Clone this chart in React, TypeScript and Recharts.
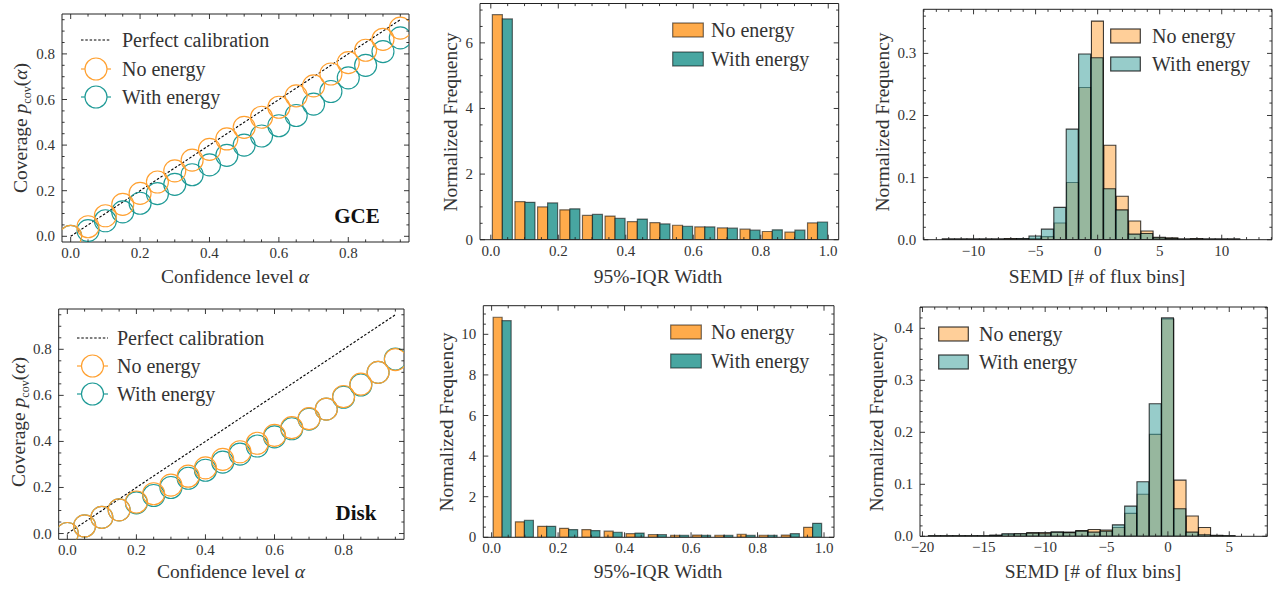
import React from 'react';
import { ComposedChart, Line, Bar, XAxis, YAxis } from 'recharts';

// ------------------------------------------------------------------ data
const ALPHA = [0, 0.05, 0.1, 0.15, 0.2, 0.25, 0.3, 0.35, 0.4, 0.45, 0.5, 0.55, 0.6, 0.65, 0.7, 0.75, 0.8, 0.85, 0.9, 0.95];
const PERFECT = [0, 0.05, 0.1, 0.15, 0.2, 0.25, 0.3, 0.35, 0.4, 0.45, 0.5, 0.55, 0.6, 0.65, 0.7, 0.75, 0.8, 0.85, 0.9, 0.95];
const GCE_COV_NO = [0, 0.042, 0.09, 0.14, 0.188, 0.238, 0.287, 0.334, 0.381, 0.427, 0.478, 0.522, 0.566, 0.616, 0.66, 0.712, 0.762, 0.816, 0.864, 0.913];
const GCE_COV_WITH = [0, 0.025, 0.068, 0.107, 0.145, 0.187, 0.228, 0.27, 0.313, 0.355, 0.4, 0.44, 0.485, 0.53, 0.58, 0.635, 0.695, 0.75, 0.81, 0.87];
const DISK_COV_NO = [0, 0.033, 0.07, 0.103, 0.137, 0.173, 0.21, 0.249, 0.285, 0.322, 0.355, 0.392, 0.426, 0.46, 0.499, 0.54, 0.595, 0.649, 0.7, 0.755];
const DISK_COV_WITH = [0, 0.033, 0.07, 0.103, 0.133, 0.165, 0.2, 0.24, 0.275, 0.31, 0.345, 0.38, 0.42, 0.455, 0.497, 0.54, 0.592, 0.645, 0.7, 0.758];

const IQR_BINS = [0.033, 0.1, 0.167, 0.233, 0.3, 0.367, 0.433, 0.5, 0.567, 0.633, 0.7, 0.767, 0.833, 0.9, 0.967];
const GCE_IQR_NO = [6.86, 1.16, 1.0, 0.91, 0.74, 0.72, 0.55, 0.52, 0.44, 0.39, 0.36, 0.32, 0.25, 0.23, 0.51];
const GCE_IQR_WITH = [6.73, 1.14, 1.12, 0.94, 0.77, 0.65, 0.63, 0.48, 0.41, 0.39, 0.35, 0.29, 0.3, 0.29, 0.54];
const DISK_IQR_NO = [10.84, 0.76, 0.54, 0.44, 0.38, 0.3, 0.18, 0.13, 0.1, 0.11, 0.1, 0.15, 0.1, 0.11, 0.49];
const DISK_IQR_WITH = [10.67, 0.84, 0.54, 0.38, 0.33, 0.25, 0.21, 0.13, 0.1, 0.1, 0.1, 0.1, 0.1, 0.18, 0.69];

const GCE_SEMD_BINS = [-12, -11, -10, -9, -8, -7, -6, -5, -4, -3, -2, -1, 0, 1, 2, 3, 4, 5, 6, 7, 8, 9, 10, 11];
const GCE_SEMD_NO = [0.001, 0.001, 0.001, 0.001, 0.001, 0.002, 0.001, 0.002, 0.005, 0.027, 0.092, 0.245, 0.352, 0.152, 0.07, 0.03, 0.014, 0.004, 0.003, 0.001, 0.002, 0.001, 0.001, 0.001];
const GCE_SEMD_WITH = [0.001, 0.001, 0.001, 0.001, 0.001, 0.001, 0.002, 0.006, 0.017, 0.052, 0.178, 0.299, 0.293, 0.082, 0.048, 0.009, 0.01, 0.003, 0.002, 0.001, 0.001, 0.001, 0.001, 0.001];

const DISK_SEMD_BINS = [-19, -18, -17, -16, -15, -14, -13, -12, -11, -10, -9, -8, -7, -6, -5, -4, -3, -2, -1, 0, 1, 2, 3, 4, 5];
const DISK_SEMD_NO = [0.001, 0.001, 0.001, 0.001, 0.001, 0.002, 0.004, 0.005, 0.007, 0.007, 0.008, 0.008, 0.011, 0.013, 0.012, 0.017, 0.044, 0.081, 0.196, 0.418, 0.108, 0.039, 0.017, 0.002, 0.001];
const DISK_SEMD_WITH = [0.001, 0.001, 0.001, 0.001, 0.001, 0.002, 0.005, 0.005, 0.006, 0.005, 0.008, 0.007, 0.01, 0.008, 0.01, 0.022, 0.058, 0.105, 0.255, 0.42, 0.053, 0.008, 0.003, 0.001, 0.001];

// tick labels / positions
const COV_MAJOR = [0, 0.2, 0.4, 0.6, 0.8];
const IQR_X_MAJOR = [0, 0.2, 0.4, 0.6, 0.8, 1.0];
const GCE_IQR_Y_MAJOR = [0, 2, 4, 6];
const DISK_IQR_Y_MAJOR = [0, 2, 4, 6, 8, 10];
const GCE_SEMD_X_MAJOR = [-10, -5, 0, 5, 10];
const DISK_SEMD_X_MAJOR = [-20, -15, -10, -5, 0, 5];
const GCE_SEMD_Y_MAJOR = [0, 0.1, 0.2, 0.3];
const DISK_SEMD_Y_MAJOR = [0, 0.1, 0.2, 0.3, 0.4];

// ------------------------------------------------------------------ style
const FONT = '"Liberation Serif", "Times New Roman", serif';
const INK = '#222';
const TEXT = '#333';
const TICK_FS = 15;
const LABEL_FS = 19.5;
const LEGEND_FS = 20;
const COV_ORANGE = '#FFA030';
const COV_TEAL = '#1E9A96';
const BAR_ORANGE = '#FFAB4B';
const BAR_TEAL = '#48A6A1';

const range = (a: number, b: number, s: number) => {
  const out: number[] = [];
  const n = Math.round((b - a) / s);
  for (let i = 0; i <= n; i++) out.push(Math.round((a + i * s) * 1e6) / 1e6);
  return out;
};
const near = (a: number, b: number) => Math.abs(a - b) < 1e-6;
const merge = (a: number[], b: number[]) => {
  const all = [...a];
  b.forEach((v) => { if (!all.some((w) => near(w, v))) all.push(v); });
  return all.sort((x, y) => x - y);
};
const fmt1 = (v: number) => (v < 0 ? '\u2212' : '') + Math.abs(v).toFixed(1);
const fmtInt = (v: number) => (v < 0 ? '\u2212' : '') + String(Math.abs(Math.round(v)));

type Side = 'bottom' | 'top' | 'left' | 'right';
function tickRenderer(side: Side, majors: number[], fmt?: (v: number) => string) {
  return (props: any) => {
    const { x, y, payload } = props;
    const v = Number(payload.value);
    const major = majors.some((m) => near(m, v));
    const len = major ? 5 : 2.6;
    let x2 = x;
    let y2 = y;
    if (side === 'bottom') y2 = y - len;
    else if (side === 'top') y2 = y + len;
    else if (side === 'left') x2 = x + len;
    else x2 = x - len;
    return (
      <g>
        <line x1={x} y1={y} x2={x2} y2={y2} stroke={INK} strokeWidth={0.9} />
        {major && fmt && side === 'bottom' && (
          <text x={x} y={y + 16} textAnchor="middle" fontSize={TICK_FS} fontFamily={FONT} fill={TEXT}>{fmt(v)}</text>
        )}
        {major && fmt && side === 'left' && (
          <text x={x - 7} y={y + 5} textAnchor="end" fontSize={TICK_FS} fontFamily={FONT} fill={TEXT}>{fmt(v)}</text>
        )}
      </g>
    );
  };
}

type FrameCfg = {
  xDomain: [number, number];
  yDomain: [number, number];
  xMajor: number[];
  xMinor: number[];
  yMajor: number[];
  yMinor: number[];
  xFmt: (v: number) => string;
  yFmt: (v: number) => string;
};
// every axis is 1px thick so that recharts draws it; margins below subtract that pixel
const AX = 1;
function frame(c: FrameCfg) {
  const xAll = merge(c.xMajor, c.xMinor);
  const yAll = merge(c.yMajor, c.yMinor);
  const common = {
    type: 'number' as const,
    allowDataOverflow: true,
    interval: 0 as const,
    tickSize: 0,
    tickMargin: 0,
    tickLine: false,
    axisLine: { stroke: INK, strokeWidth: 1 },
  };
  return [
    <XAxis key="xb" xAxisId="b" orientation="bottom" dataKey="x" height={AX} domain={c.xDomain} ticks={xAll} tick={tickRenderer('bottom', c.xMajor, c.xFmt)} {...common} />,
    <XAxis key="xt" xAxisId="t" orientation="top" dataKey="x" height={AX} domain={c.xDomain} ticks={xAll} tick={tickRenderer('top', c.xMajor)} {...common} />,
    <YAxis key="yl" yAxisId="l" orientation="left" width={AX} domain={c.yDomain} ticks={yAll} tick={tickRenderer('left', c.yMajor, c.yFmt)} {...common} />,
    <YAxis key="yr" yAxisId="r" orientation="right" width={AX} domain={c.yDomain} ticks={yAll} tick={tickRenderer('right', c.yMajor)} {...common} />,
  ];
}
// an invisible series that ties the top and right axes of the frame to the data
const frameAnchor = (key: string) => (
  <Line key="anchor" xAxisId="t" yAxisId="r" dataKey={key} stroke="none" dot={false} activeDot={false}
    legendType="none" isAnimationActive={false} />
);

type Box = { bx: number; by: number; bw: number; bh: number; L: number; T: number; R: number; B: number };
const margins = (b: Box) => ({ left: b.L - b.bx - AX, top: b.T - b.by - AX, right: b.bx + b.bw - b.R - AX, bottom: b.by + b.bh - b.B - AX });

const P1: Box = { bx: 0, by: 0, bw: 420, bh: 292, L: 62, T: 14, R: 409, B: 242 };
const P2: Box = { bx: 420, by: 0, bw: 430, bh: 292, L: 480, T: 3.5, R: 838.7, B: 239.7 };
const P3: Box = { bx: 850, by: 0, bw: 431, bh: 292, L: 923.3, T: 9.3, R: 1272, B: 239.7 };
const P4: Box = { bx: 0, by: 292, bw: 420, bh: 297, L: 58.7, T: 309, R: 404, B: 539.3 };
const P5: Box = { bx: 420, by: 292, bw: 430, bh: 297, L: 483.3, T: 305.7, R: 834, B: 537.3 };
const P6: Box = { bx: 850, by: 292, bw: 431, bh: 297, L: 920, T: 307, R: 1267.3, B: 536.3 };

// ------------------------------------------------------------------ charts
function CoverageChart({ box, no, wi }: { box: Box; no: number[]; wi: number[] }) {
  const data = ALPHA.map((a, i) => ({ x: a, no: no[i], wi: wi[i], perfect: PERFECT[i] }));
  return (
    <div style={{ position: 'absolute', left: box.bx, top: box.by }}>
      <ComposedChart width={box.bw} height={box.bh} data={data} margin={margins(box)}>
        {frame({
          xDomain: [-0.025, 0.975], yDomain: [-0.025, 0.975],
          xMajor: COV_MAJOR, xMinor: range(0, 0.95, 0.05),
          yMajor: COV_MAJOR, yMinor: range(0, 0.95, 0.05),
          xFmt: fmt1, yFmt: fmt1,
        })}
        {frameAnchor('perfect')}
        <Line xAxisId="b" yAxisId="l" type="linear" dataKey="perfect" stroke="#000" strokeWidth={1.1}
          strokeDasharray="2.5 1.8" dot={false} activeDot={false} isAnimationActive={false} />
        <Line xAxisId="b" yAxisId="l" type="linear" dataKey="wi" stroke="none"
          dot={{ r: 11, fill: 'none', stroke: COV_TEAL, strokeWidth: 1.15 }} activeDot={false} isAnimationActive={false} />
        <Line xAxisId="b" yAxisId="l" type="linear" dataKey="no" stroke="none"
          dot={{ r: 11, fill: 'none', stroke: COV_ORANGE, strokeWidth: 1.15 }} activeDot={false} isAnimationActive={false} />
      </ComposedChart>
    </div>
  );
}

function IqrChart({ box, no, wi, yMax, yMajor, xDomain }: { box: Box; no: number[]; wi: number[]; yMax: number; yMajor: number[]; xDomain: [number, number] }) {
  const data = IQR_BINS.map((b, i) => ({ x: b, no: no[i], wi: wi[i] }));
  return (
    <div style={{ position: 'absolute', left: box.bx, top: box.by }}>
      <ComposedChart width={box.bw} height={box.bh} data={data} margin={margins(box)} barCategoryGap="7%" barGap={0}>
        {frame({
          xDomain, yDomain: [0, yMax],
          xMajor: IQR_X_MAJOR, xMinor: range(0, 1, 0.05),
          yMajor, yMinor: range(0, Math.floor(yMax * 2) / 2, 0.5),
          xFmt: fmt1, yFmt: fmtInt,
        })}
        {frameAnchor('no')}
        <Bar xAxisId="b" yAxisId="l" dataKey="no" fill={BAR_ORANGE} stroke="rgba(0,0,0,0.55)" strokeWidth={1.2} isAnimationActive={false} />
        <Bar xAxisId="b" yAxisId="l" dataKey="wi" fill={BAR_TEAL} stroke="rgba(0,0,0,0.55)" strokeWidth={1.2} isAnimationActive={false} />
      </ComposedChart>
    </div>
  );
}

function SemdChart({ box, bins, no, wi, xDomain, xMajor, yMax, yMajor }: { box: Box; bins: number[]; no: number[]; wi: number[]; xDomain: [number, number]; xMajor: number[]; yMax: number; yMajor: number[] }) {
  const data = bins.map((b, i) => ({ x: b, no: no[i], wi: wi[i] }));
  return (
    <div style={{ position: 'absolute', left: box.bx, top: box.by }}>
      <ComposedChart width={box.bw} height={box.bh} data={data} margin={margins(box)} barCategoryGap={0} barGap="-100%">
        {frame({
          xDomain, yDomain: [0, yMax],
          xMajor, xMinor: range(Math.ceil(xDomain[0]), Math.floor(xDomain[1]), 1),
          yMajor, yMinor: range(0, Math.floor(yMax * 50) / 50, 0.02),
          xFmt: fmtInt, yFmt: fmt1,
        })}
        {frameAnchor('no')}
        <Bar xAxisId="b" yAxisId="l" dataKey="no" fill={BAR_ORANGE} fillOpacity={0.57} stroke="rgba(0,0,0,0.75)" strokeWidth={1.1} isAnimationActive={false} />
        <Bar xAxisId="b" yAxisId="l" dataKey="wi" fill={BAR_TEAL} fillOpacity={0.57} stroke="rgba(0,0,0,0.75)" strokeWidth={1.1} isAnimationActive={false} />
      </ComposedChart>
    </div>
  );
}

// ------------------------------------------------------------------ text helpers
function Txt({ x, y, children, size = LABEL_FS, rotate = false, bold = false }: { x: number; y: number; children: React.ReactNode; size?: number; rotate?: boolean; bold?: boolean }) {
  return (
    <div style={{
      position: 'absolute', left: x, top: y,
      transform: `translate(-50%, -50%)${rotate ? ' rotate(-90deg)' : ''}`,
      fontSize: size, fontFamily: FONT, fontWeight: bold ? 700 : 400, whiteSpace: 'nowrap', lineHeight: 1, color: bold ? '#111' : TEXT,
    }}>{children}</div>
  );
}

const CoverageTitle = () => (
  <span>Coverage <i>p</i><sub style={{ fontSize: '0.62em', verticalAlign: '-0.3em' }}>cov</sub>(<i>α</i>)</span>
);

type LegendItem = { label: string; kind: 'dash' | 'circle' | 'patch'; color: string; opacity?: number };
function Legend({ x1, x2, textX, rows, items }: { x1: number; x2: number; textX: number; rows: number[]; items: LegendItem[] }) {
  const w = x2 - x1;
  return (
    <>
      {items.map((it, i) => (
        <React.Fragment key={it.label}>
          <svg style={{ position: 'absolute', left: x1, top: rows[i] - 12 }} width={w} height={24}>
            {it.kind === 'dash' && <line x1={0} y1={12} x2={w} y2={12} stroke="#000" strokeWidth={1.1} strokeDasharray="2.5 1.8" />}
            {it.kind === 'circle' && (
              <>
                <line x1={0} y1={12} x2={w} y2={12} stroke={it.color} strokeWidth={1.2} />
                <circle cx={w / 2} cy={12} r={11} fill="#fff" stroke={it.color} strokeWidth={1.15} />
              </>
            )}
            {it.kind === 'patch' && (
              <rect x={0.7} y={5} width={w - 1.4} height={14} fill={it.color} fillOpacity={it.opacity ?? 1}
                stroke={it.opacity ? 'rgba(0,0,0,0.75)' : 'rgba(0,0,0,0.55)'} strokeWidth={1.2} />
            )}
          </svg>
          <div style={{ position: 'absolute', left: textX, top: rows[i], transform: 'translateY(-50%)', fontSize: LEGEND_FS, fontFamily: FONT, lineHeight: 1, whiteSpace: 'nowrap', color: TEXT }}>
            {it.label}
          </div>
        </React.Fragment>
      ))}
    </>
  );
}

const COV_ITEMS: LegendItem[] = [
  { label: 'Perfect calibration', kind: 'dash', color: '#111' },
  { label: 'No energy', kind: 'circle', color: COV_ORANGE },
  { label: 'With energy', kind: 'circle', color: COV_TEAL },
];
const IQR_ITEMS: LegendItem[] = [
  { label: 'No energy', kind: 'patch', color: BAR_ORANGE },
  { label: 'With energy', kind: 'patch', color: BAR_TEAL },
];
const SEMD_ITEMS: LegendItem[] = [
  { label: 'No energy', kind: 'patch', color: BAR_ORANGE, opacity: 0.57 },
  { label: 'With energy', kind: 'patch', color: BAR_TEAL, opacity: 0.57 },
];

// ------------------------------------------------------------------ app
export default function App() {
  return (
    <div style={{ position: 'absolute', left: 0, top: 0, width: 1281, height: 589, background: '#fff', overflow: 'hidden' }}>
      <CoverageChart box={P1} no={GCE_COV_NO} wi={GCE_COV_WITH} />
      <IqrChart box={P2} no={GCE_IQR_NO} wi={GCE_IQR_WITH} yMax={7.2} yMajor={GCE_IQR_Y_MAJOR} xDomain={[-0.032, 1.031]} />
      <SemdChart box={P3} bins={GCE_SEMD_BINS} no={GCE_SEMD_NO} wi={GCE_SEMD_WITH} xDomain={[-14.05, 14.05]} xMajor={GCE_SEMD_X_MAJOR} yMax={0.371} yMajor={GCE_SEMD_Y_MAJOR} />
      <CoverageChart box={P4} no={DISK_COV_NO} wi={DISK_COV_WITH} />
      <IqrChart box={P5} no={DISK_IQR_NO} wi={DISK_IQR_WITH} yMax={11.41} yMajor={DISK_IQR_Y_MAJOR} xDomain={[-0.025, 1.03]} />
      <SemdChart box={P6} bins={DISK_SEMD_BINS} no={DISK_SEMD_NO} wi={DISK_SEMD_WITH} xDomain={[-20.2, 8.1]} xMajor={DISK_SEMD_X_MAJOR} yMax={0.441} yMajor={DISK_SEMD_Y_MAJOR} />

      {/* axis titles */}
      <Txt x={235} y={277}>Confidence level <i>α</i></Txt>
      <Txt x={231} y={572}>Confidence level <i>α</i></Txt>
      <Txt x={658} y={277}>95%-IQR Width</Txt>
      <Txt x={658} y={572}>95%-IQR Width</Txt>
      <Txt x={1097} y={277}>SEMD [# of flux bins]</Txt>
      <Txt x={1093} y={572}>SEMD [# of flux bins]</Txt>
      <Txt x={22} y={128} rotate><CoverageTitle /></Txt>
      <Txt x={20} y={422} rotate><CoverageTitle /></Txt>
      <Txt x={451} y={122} rotate>Normalized Frequency</Txt>
      <Txt x={447} y={422} rotate>Normalized Frequency</Txt>
      <Txt x={883} y={122} rotate>Normalized Frequency</Txt>
      <Txt x={877} y={422} rotate>Normalized Frequency</Txt>

      {/* panel tags */}
      <Txt x={357} y={216} size={21} bold>GCE</Txt>
      <Txt x={356} y={513} size={21} bold>Disk</Txt>

      {/* legends */}
      <Legend x1={81} x2={111} textX={122} rows={[40, 69, 97]} items={COV_ITEMS} />
      <Legend x1={77} x2={108} textX={117} rows={[338, 366, 394]} items={COV_ITEMS} />
      <Legend x1={672} x2={704} textX={711} rows={[30, 58.5]} items={IQR_ITEMS} />
      <Legend x1={670} x2={702} textX={711} rows={[332, 361]} items={IQR_ITEMS} />
      <Legend x1={1110} x2={1141} textX={1152} rows={[35.5, 64]} items={SEMD_ITEMS} />
      <Legend x1={938} x2={969} textX={979} rows={[333.5, 362]} items={SEMD_ITEMS} />
    </div>
  );
}
